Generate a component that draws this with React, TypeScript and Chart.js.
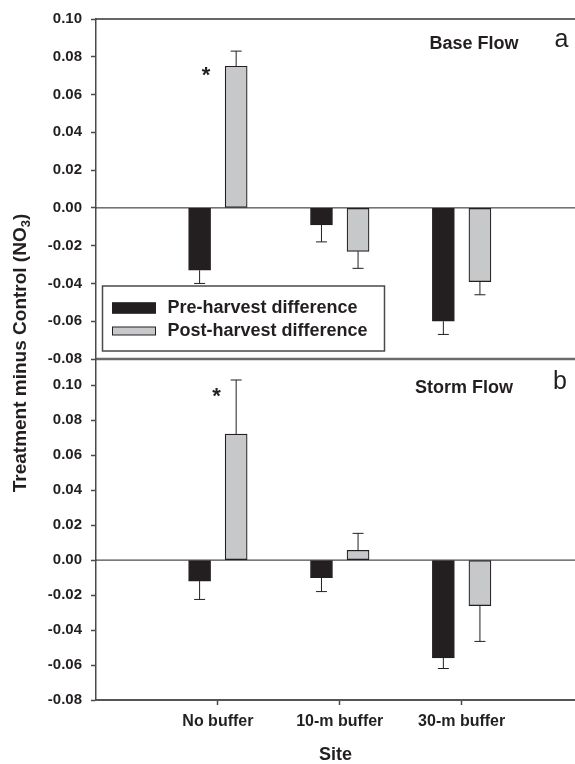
import React, { useEffect, useRef } from 'react';
import { Chart, registerables } from 'chart.js';

Chart.register(...registerables);

// ---------------- data ----------------
const categories = ['No buffer', '10-m buffer', '30-m buffer'];
const seriesNames = ['Pre-harvest difference', 'Post-harvest difference'];

const basePre = [-0.033, -0.009, -0.060];
const basePreErr = [0.007, 0.009, 0.007];
const basePost = [0.075, -0.023, -0.039];
const basePostErr = [0.008, 0.009, 0.007];

const stormPre = [-0.012, -0.010, -0.056];
const stormPreErr = [0.0105, 0.008, 0.006];
const stormPost = [0.072, 0.0056, -0.026];
const stormPostErr = [0.031, 0.0097, 0.0205];

const yTickValues = [-0.08, -0.06, -0.04, -0.02, 0, 0.02, 0.04, 0.06, 0.08, 0.1];

const yTitleMain = 'Treatment minus Control (NO';
const yTitleSub = '3';
const yTitleEnd = ')';
const xTitle = 'Site';

// ---------------- styles ----------------
const W = 575;
const H = 764;
const FONT = "'Liberation Sans', Arial, Helvetica, sans-serif";
const INK = '#231f20';
const AXIS = '#4a4a4a';
const PRE_COLOR = '#231f20';
const POST_COLOR = '#c7c8ca';

function line(ctx: CanvasRenderingContext2D, x1: number, y1: number, x2: number, y2: number) {
  ctx.beginPath();
  ctx.moveTo(x1, y1);
  ctx.lineTo(x2, y2);
  ctx.stroke();
}

const panelPlugin = {
  id: 'panel',
  afterDatasetsDraw(chart: any) {
    const opts = chart.options.plugins.panel;
    const { ctx, chartArea: ca } = chart;
    const xs = chart.scales.x;
    const ys = chart.scales.y;
    ctx.save();

    // zero line
    const y0 = ys.getPixelForValue(0);
    ctx.strokeStyle = INK;
    ctx.lineWidth = 1;
    line(ctx, ca.left, y0, ca.right, y0);

    // error bars (one-sided, away from zero)
    chart.data.datasets.forEach((ds: any, di: number) => {
      const meta = chart.getDatasetMeta(di);
      meta.data.forEach((el: any, i: number) => {
        const v = ds.data[i].y;
        const e = ds.errors[i];
        const end = ys.getPixelForValue(v + (v >= 0 ? e : -e));
        ctx.strokeStyle = INK;
        ctx.lineWidth = 1;
        line(ctx, el.x, el.y, el.x, end);
        line(ctx, el.x - 5.5, end, el.x + 5.5, end);
      });
    });

    // frame line at top of panel
    ctx.strokeStyle = opts.topColor;
    ctx.lineWidth = opts.topWidth;
    line(ctx, ca.left, ca.top, ca.right, ca.top);

    // annotations
    opts.notes.forEach((n: any) => {
      ctx.font = n.font;
      ctx.fillStyle = INK;
      ctx.textAlign = 'center';
      ctx.textBaseline = 'alphabetic';
      ctx.fillText(n.text, xs.getPixelForValue(n.x), ys.getPixelForValue(n.y));
    });

    // legend box
    if (opts.legend) {
      const left = ca.left + 6.5;
      const bottom = ca.bottom - 8;
      const bw = 282;
      const bh = 65;
      const top = bottom - bh;
      ctx.fillStyle = '#ffffff';
      ctx.fillRect(left, top, bw, bh);
      ctx.strokeStyle = AXIS;
      ctx.lineWidth = 1.5;
      ctx.strokeRect(left, top, bw, bh);
      ctx.font = `bold 18px ${FONT}`;
      ctx.textAlign = 'left';
      ctx.textBaseline = 'middle';
      chart.data.datasets.forEach((ds: any, di: number) => {
        const cy = top + 22 + di * 23;
        const sh = di === 0 ? 10.5 : 8;
        ctx.fillStyle = ds.backgroundColor;
        ctx.fillRect(left + 10, cy - sh / 2, 43, sh);
        ctx.strokeStyle = ds.borderColor;
        ctx.lineWidth = 1;
        ctx.strokeRect(left + 10, cy - sh / 2, 43, sh);
        ctx.fillStyle = INK;
        ctx.fillText(ds.label, left + 65, cy);
      });
    }

    // y-axis title with subscript
    if (opts.yTitle) {
      const mainFont = `bold 19px ${FONT}`;
      const subFont = `bold 13px ${FONT}`;
      ctx.font = mainFont;
      const w1 = ctx.measureText(yTitleMain).width;
      const w3 = ctx.measureText(yTitleEnd).width;
      ctx.font = subFont;
      const w2 = ctx.measureText(yTitleSub).width;
      const total = w1 + w2 + w3;
      ctx.translate(opts.yTitle.cx, opts.yTitle.cy);
      ctx.rotate(-Math.PI / 2);
      ctx.fillStyle = INK;
      ctx.textAlign = 'left';
      ctx.textBaseline = 'middle';
      let sx = -total / 2;
      ctx.font = mainFont;
      ctx.fillText(yTitleMain, sx, 0);
      sx += w1;
      ctx.font = subFont;
      ctx.fillText(yTitleSub, sx, 5);
      sx += w2;
      ctx.font = mainFont;
      ctx.fillText(yTitleEnd, sx, 0);
    }

    ctx.restore();
  },
};

function makeConfig(p: any) {
  const bottomPanel = p.bottomPanel;
  return {
    type: 'bar',
    data: {
      datasets: [
        {
          label: seriesNames[0],
          data: p.pre.map((v: number, i: number) => ({ x: i - 0.15, y: v })),
          errors: p.preErr,
          backgroundColor: PRE_COLOR,
          borderColor: INK,
          borderWidth: 1,
          borderSkipped: false,
          barThickness: 22,
          grouped: false,
        },
        {
          label: seriesNames[1],
          data: p.post.map((v: number, i: number) => ({ x: i + 0.15, y: v })),
          errors: p.postErr,
          backgroundColor: POST_COLOR,
          borderColor: INK,
          borderWidth: 1.2,
          borderSkipped: false,
          barThickness: 22,
          grouped: false,
        },
      ],
    },
    options: {
      responsive: false,
      animation: false,
      events: [],
      layout: { padding: { top: p.padTop, bottom: p.padBottom, left: 0, right: 0 } },
      plugins: {
        legend: { display: false },
        tooltip: { enabled: false },
        panel: p.panel,
      },
      scales: {
        x: {
          type: 'linear',
          min: -1,
          max: 2.93,
          bounds: 'data',
          offset: false,
          display: bottomPanel,
          afterBuildTicks: (s: any) => {
            s.ticks = categories.map((_, i) => ({ value: i }));
          },
          afterFit: (s: any) => {
            s.height = bottomPanel ? 64 : 0;
          },
          ticks: {
            callback: (v: number) => categories[Math.round(v)],
            font: { family: FONT, size: 16, weight: 'bold' },
            color: INK,
            padding: 7,
            maxRotation: 0,
            autoSkip: false,
          },
          grid: { drawOnChartArea: false, offset: false, tickLength: 5, color: AXIS, tickWidth: 1.5 },
          border: { display: true, color: '#555', width: 2 },
          title: {
            display: true,
            text: xTitle,
            font: { family: FONT, size: 18, weight: 'bold', lineHeight: 1 },
            color: INK,
            padding: 0,
          },
        },
        y: {
          type: 'linear',
          min: -0.08,
          max: p.yMax,
          bounds: 'data',
          afterBuildTicks: (s: any) => {
            s.ticks = yTickValues.map((v) => ({ value: v }));
          },
          afterFit: (s: any) => {
            s.width = 96;
          },
          ticks: {
            callback: (v: number) => v.toFixed(2),
            font: { family: FONT, size: 15, weight: 'bold' },
            color: INK,
            padding: 9,
            autoSkip: false,
          },
          grid: { drawOnChartArea: false, tickLength: 5, color: AXIS, tickWidth: 1.5 },
          border: { display: true, color: AXIS, width: 1.5 },
        },
      },
    },
  };
}

const topPanel = {
  bottomPanel: false,
  pre: basePre,
  preErr: basePreErr,
  post: basePost,
  postErr: basePostErr,
  yMax: 0.1,
  padTop: 19,
  padBottom: H - 359,
  panel: {
    topColor: '#333',
    topWidth: 1.5,
    legend: true,
    yTitle: { cx: 21, cy: 353 },
    notes: [
      { text: '*', x: -0.098, y: 0.0669, font: `bold 22px ${FONT}` },
      { text: 'Base Flow', x: 2.101, y: 0.0839, font: `bold 18px ${FONT}` },
      { text: 'a', x: 2.819, y: 0.0853, font: `25px ${FONT}` },
    ],
  },
};

const bottomPanelCfg = {
  bottomPanel: true,
  pre: stormPre,
  preErr: stormPreErr,
  post: stormPost,
  postErr: stormPostErr,
  yMax: 0.115,
  padTop: 359,
  padBottom: 0,
  panel: {
    topColor: '#6b6b6b',
    topWidth: 2.5,
    legend: false,
    yTitle: null,
    notes: [
      { text: '*', x: -0.012, y: 0.0899, font: `bold 22px ${FONT}` },
      { text: 'Storm Flow', x: 2.019, y: 0.0958, font: `bold 18px ${FONT}` },
      { text: 'b', x: 2.806, y: 0.0981, font: `25px ${FONT}` },
    ],
  },
};

export default function App() {
  const topRef = useRef<HTMLCanvasElement>(null);
  const botRef = useRef<HTMLCanvasElement>(null);

  useEffect(() => {
    const c1 = new Chart(topRef.current as HTMLCanvasElement, {
      ...(makeConfig(topPanel) as any),
      plugins: [panelPlugin],
    });
    const c2 = new Chart(botRef.current as HTMLCanvasElement, {
      ...(makeConfig(bottomPanelCfg) as any),
      plugins: [panelPlugin],
    });
    return () => {
      c1.destroy();
      c2.destroy();
    };
  }, []);

  return (
    <div style={{ position: 'fixed', left: 0, top: 0, width: W, height: H, background: '#fff' }}>
      <canvas ref={botRef} width={W} height={H} style={{ position: 'absolute', left: 0, top: 0 }} />
      <canvas ref={topRef} width={W} height={H} style={{ position: 'absolute', left: 0, top: 0 }} />
    </div>
  );
}
